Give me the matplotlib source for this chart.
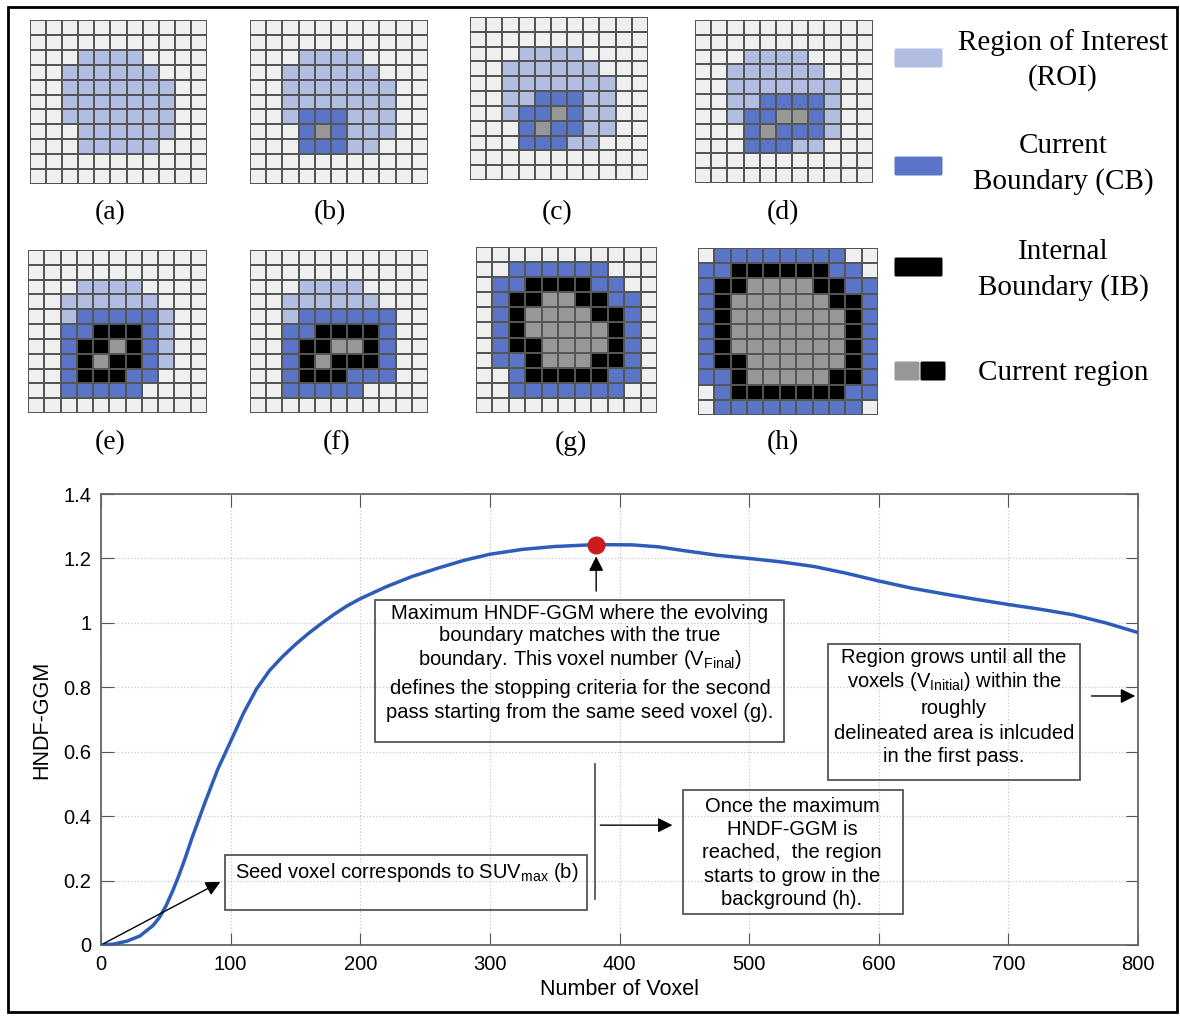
import matplotlib
matplotlib.use("Agg")
import matplotlib.pyplot as plt
import numpy as np
from matplotlib.colors import ListedColormap
from matplotlib.patches import Rectangle, FancyBboxPatch

plt.rcParams.update({"font.family": ["Liberation Sans", "DejaVu Sans"],
                     "mathtext.fontset": "custom",
                     "mathtext.rm": "Liberation Sans",
                     "mathtext.it": "Liberation Sans:italic"})

W, H = 1180, 1016
SERIF = ["Liberation Serif", "DejaVu Serif"]

# --- grid states: . background, r ROI, c current boundary, b internal boundary, g current region
panel_a = ["...........", "...........", "...rrrr....", "..rrrrrr...", "..rrrrrrr..",
           "..rrrrrrr..", "..rrrrrrr..", "...rrrrrr..", "...rrrrr...", "...........", "..........."]
panel_b = ["...........", "...........", "...rrrr....", "..rrrrrr...", "..rrrrrrr..",
           "..rrrrrrr..", "..rcccrrr..", "...cgcrrr..", "...cccrr...", "...........", "..........."]
panel_c = ["...........", "...........", "...rrrr....", "..rrrrrr...", "..rrrrrrr..",
           "..rrcccrr..", "..rccgcrr..", "...cgccrr..", "...cccrr...", "...........", "..........."]
panel_d = ["...........", "...........", "...rrrr....", "..rrrrrr...", "..rrrrrrr..",
           "..rrccccr..", "..rccggcr..", "...cgcccr..", "...cccrr...", "...........", "..........."]
panel_e = ["...........", "...........", "...rrrr....", "..rrrrrr...", "..rcccccr..",
           "..ccbbbcr..", "..cbbgbcr..", "..cbgbbcr..", "..cbbbcc...", "..ccccc....", "..........."]
panel_f = ["...........", "...........", "...rrrr....", "..rrrrrr...", "..rcccccc..",
           "..ccbbbbc..", "..cbbggbc..", "..cbgbbbc..", "..cbbbccc..", "..ccccc....", "..........."]
panel_g = ["...........", "..cccccc...", ".ccbbbbcc..", ".cbbggbbcc.", ".cbggggbbc.",
           ".cbgggggbc.", ".cbbggggbc.", ".ccbgggbbc.", "..cbbbbbcc.", "..ccccccc..", "..........."]
panel_h = [".cccccccc..", "ccbbbbbbcc.", "cbbggggbbcc", "cbggggggbbc", "cbgggggggbc",
           "cbgggggggbc", "cbgggggggbc", "cbbggggggbc", "ccbgggggbbc", ".cbbbbbbbcc", ".ccccccccc."]
panel_names = ["(a)", "(b)", "(c)", "(d)", "(e)", "(f)", "(g)", "(h)"]
panels = [panel_a, panel_b, panel_c, panel_d, panel_e, panel_f, panel_g, panel_h]

# --- HNDF-GGM curve
vox = [0, 10, 20, 30, 40, 45, 50, 55, 60, 65, 70, 80, 90, 100, 110, 120, 130, 140, 150,
       160, 170, 180, 190, 200, 220, 240, 260, 280, 300, 325, 350, 382, 410, 430, 450,
       475, 500, 525, 550, 575, 600, 625, 650, 675, 700, 725, 750, 775, 800]
hndf = [0, 0.003, 0.012, 0.028, 0.06, 0.085, 0.12, 0.165, 0.215, 0.27, 0.33, 0.44, 0.545,
        0.632, 0.72, 0.795, 0.852, 0.895, 0.933, 0.967, 0.998, 1.027, 1.053, 1.075, 1.112,
        1.144, 1.17, 1.194, 1.213, 1.228, 1.237, 1.243, 1.242, 1.236, 1.224, 1.21, 1.2,
        1.189, 1.175, 1.154, 1.13, 1.108, 1.09, 1.073, 1.057, 1.042, 1.025, 1.0, 0.97]
x_ticks = [0, 100, 200, 300, 400, 500, 600, 700, 800]
y_ticks = [0, 0.2, 0.4, 0.6, 0.8, 1.0, 1.2, 1.4]
y_ticklabels = ["0", "0.2", "0.4", "0.6", "0.8", "1", "1.2", "1.4"]

BG, ROI, CB, IB, CUR = "#EFEFEF", "#B1BEE2", "#5A74C8", "#000000", "#979797"
codes = {".": 0, "r": 1, "c": 2, "b": 3, "g": 4}
cmap = ListedColormap([BG, ROI, CB, IB, CUR])

fig = plt.figure(figsize=(W / 100, H / 100), dpi=100)

# overlay in pixel coordinates for border, legend and labels
ov = fig.add_axes([0, 0, 1, 1])
ov.set_xlim(0, W)
ov.set_ylim(H, 0)
ov.set_axis_off()
ov.add_patch(Rectangle((8, 7), 1169, 1005, fill=False, ec="black", lw=2))


def px_axes(l, t, r, b):
    return fig.add_axes([l / W, 1 - b / H, (r - l) / W, (b - t) / H])


# panel boxes (left, top, right, bottom) in pixels and label centres
boxes = [(30, 20, 207, 184), (250, 20, 428, 184), (470, 17, 648, 180), (695, 20, 873, 183),
         (28, 250, 207, 413), (250, 250, 428, 413), (476, 247, 657, 413), (698, 248, 878, 415)]
label_pos = [(110, 213), (330, 213), (557, 213), (783, 213),
             (110, 443), (337, 443), (571, 443), (783, 443)]

for grid, box, name, lp in zip(panels, boxes, panel_names, label_pos):
    arr = np.array([[codes[ch] for ch in row] for row in grid])
    ax = px_axes(*box)
    ax.pcolormesh(arr, cmap=cmap, vmin=-0.5, vmax=4.5, edgecolors="#555555", linewidth=1.3)
    ax.set_xlim(0, arr.shape[1])
    ax.set_ylim(arr.shape[0], 0)
    ax.set_axis_off()
    ov.text(lp[0], lp[1], name, ha="center", va="center", fontsize=20, family=SERIF)

# legend
legend_items = [("Region of Interest\n(ROI)", [ROI], 58, 60),
                ("Current\nBoundary (CB)", [CB], 166, 164),
                ("Internal\nBoundary (IB)", [IB], 267, 270),
                ("Current region", [CUR, IB], 371, 373)]
for text, cols, sy, ty in legend_items:
    if len(cols) == 1:
        ov.add_patch(FancyBboxPatch((896, sy - 8), 45, 16, boxstyle="round,pad=1.5",
                                    fc=cols[0], ec="none"))
    else:
        ov.add_patch(FancyBboxPatch((896, sy - 8), 22, 16, boxstyle="round,pad=1.5",
                                    fc=cols[0], ec="none"))
        ov.add_patch(FancyBboxPatch((922, sy - 8), 22, 16, boxstyle="round,pad=1.5",
                                    fc=cols[1], ec="none"))
    ov.text(1063, ty, text, ha="center", va="center", fontsize=21, family=SERIF,
            linespacing=1.4)

# main chart
ax = px_axes(101, 494, 1138, 945)
ax.plot(vox, hndf, color="#2E5CBA", lw=2.5, zorder=3)
ipk = int(np.argmax(hndf))
ax.plot(vox[ipk], hndf[ipk], "o", color="#CC1B1B", ms=12, zorder=4)
ax.set_xlim(0, 800)
ax.set_ylim(0, 1.4)
ax.set_xticks(x_ticks)
ax.set_yticks(y_ticks)
ax.set_yticklabels(y_ticklabels)
ax.grid(True, linestyle=":", color="#C8C8C8", lw=0.9)
ax.tick_params(direction="in", length=9, top=True, right=True, color="#555555",
               labelsize=14.5, pad=7)
for sp in ax.spines.values():
    sp.set_color("#666666")
    sp.set_linewidth(1.3)
ax.set_xlabel("Number of Voxel", fontsize=15.5, labelpad=4)
ax.set_ylabel("HNDF-GGM", fontsize=15.5, labelpad=8)

FS = 14.5
box_kw = dict(fill=False, ec="#555555", lw=1.3, zorder=5)
txt_kw = dict(fontsize=FS, ha="center", va="center", zorder=6)
arrow_kw = dict(arrowstyle="-|>", color="black", lw=1.0, mutation_scale=22)

# seed voxel
ax.add_patch(Rectangle((96, 0.109), 279, 0.170, **box_kw))
ax.text(103, 0.225, r"Seed voxel corresponds to SUV$_{\mathrm{max}}$ (b)", fontsize=FS,
        ha="left", va="center", zorder=6)
ax.annotate("", xy=(94, 0.2), xytext=(0, 0), arrowprops=arrow_kw)

# maximum
ax.add_patch(Rectangle((211, 0.631), 316, 0.440, **box_kw))
max_lines = [("Maximum HNDF-GGM where the evolving", 1.028),
             ("boundary matches with the true", 0.960),
             (r"boundary. This voxel number (V$_{\mathrm{Final}}$)", 0.886),
             ("defines the stopping criteria for the second", 0.795),
             ("pass starting from the same seed voxel (g).", 0.723)]
for s, yy in max_lines:
    ax.text(369.5, yy, s, **txt_kw)
ax.annotate("", xy=(382, 1.215), xytext=(382, 1.09), arrowprops=arrow_kw)

# region grows
ax.add_patch(Rectangle((561, 0.512), 194, 0.422, **box_kw))
grow_lines = [("Region grows until all the", 0.893),
              (r"voxels (V$_{\mathrm{Initial}}$) within the", 0.818),
              ("roughly", 0.733),
              ("delineated area is inlcuded", 0.658),
              ("in the first pass.", 0.584)]
for s, yy in grow_lines:
    ax.text(658, yy, s, **txt_kw)
ax.annotate("", xy=(800, 0.773), xytext=(762, 0.773), arrowprops=arrow_kw)

# once the maximum
ax.add_patch(Rectangle((449, 0.095), 170, 0.385, **box_kw))
once_lines = [("Once the maximum", 0.431), ("HNDF-GGM is", 0.358),
              ("reached,  the region", 0.287), ("starts to grow in the", 0.214),
              ("background (h).", 0.142)]
for s, yy in once_lines:
    ax.text(533, yy, s, **txt_kw)
ax.plot([381, 381], [0.143, 0.563], color="#555555", lw=1.3, zorder=5)
ax.annotate("", xy=(443, 0.372), xytext=(383, 0.372), arrowprops=arrow_kw)

fig.savefig("out.png", dpi=100, facecolor="white")
